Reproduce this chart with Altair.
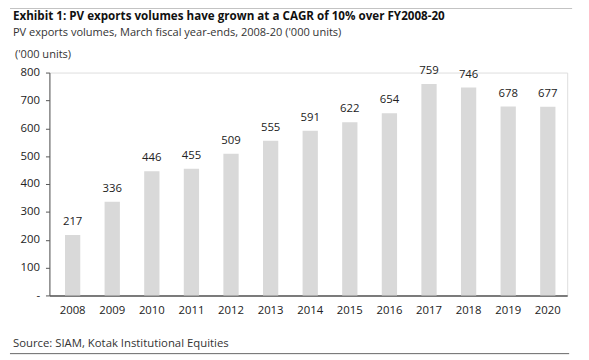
import altair as alt
import pandas as pd

years = ["2008", "2009", "2010", "2011", "2012", "2013", "2014", "2015", "2016", "2017", "2018", "2019", "2020"]
volumes = [217, 336, 446, 455, 509, 555, 591, 622, 654, 759, 746, 678, 677]
y_ticks = [0, 100, 200, 300, 400, 500, 600, 700, 800]

title_text = "Exhibit 1: PV exports volumes have grown at a CAGR of 10% over FY2008-20"
subtitle_text = "PV exports volumes, March fiscal year-ends, 2008-20 ('000 units)"
unit_text = "('000 units)"
source_text = "Source: SIAM, Kotak Institutional Equities"

df = pd.DataFrame({"year": years, "value": volumes})
FONT = "Open Sans"

x = alt.X("year:O", sort=years, title=None,
          scale=alt.Scale(paddingInner=0.614, paddingOuter=0.345, align=0.57),
          axis=alt.Axis(labelAngle=0, ticks=False, domainColor="#555555", domainWidth=1.5,
                        labelPadding=9, labelFontSize=11.5, labelColor="#222222", labelFont=FONT))
y = alt.Y("value:Q", title=None,
          scale=alt.Scale(domain=[0, 800], nice=False),
          axis=alt.Axis(values=y_ticks, grid=False, domainColor="#555555", tickColor="#555555",
                        tickSize=4, labelPadding=6, labelFontSize=11.5, labelColor="#222222",
                        labelFont=FONT, labelOverlap=False,
                        labelExpr="datum.value == 0 ? '-' : datum.label"))

base = alt.Chart(df)
bars = base.mark_bar(color="#d9d9d9").encode(x=x, y=y)
labels = base.mark_text(dy=-13, fontSize=11.5, color="#222222", font=FONT).encode(
    x=x, y=y, text="value:Q")

def txt(t, xx, yy, size=11.5, weight="normal", color="#222222"):
    return alt.Chart(pd.DataFrame({"t": [t]})).mark_text(
        align="left", baseline="alphabetic", fontSize=size, fontWeight=weight,
        color=color, font=FONT).encode(x=alt.value(xx), y=alt.value(yy), text="t:N")

def hline(x1, x2, yy, color="#888888", w=2):
    return alt.Chart(pd.DataFrame({"a": [0]})).mark_rule(color=color, strokeWidth=w).encode(
        x=alt.value(x1), x2=alt.value(x2), y=alt.value(yy))

title = txt(title_text, -37, -53, size=11.8, weight="bold", color="#111111")
subtitle = txt(subtitle_text, -37, -37, size=11.2, color="#333333")
unit = txt(unit_text, -35, -15, size=11.2, color="#333333")
source = txt(source_text, -37, 278, size=11.5, color="#333333")
top_line = hline(-40, 530, -66, color="#888888", w=2)
bottom_line = hline(-40, 527, 285, color="#666666", w=1)

chart = alt.layer(bars, labels, title, subtitle, unit, source, top_line, bottom_line).properties(
    width=525, height=226,
    autosize=alt.AutoSizeParams(type="none"),
    padding={"left": 42, "top": 63, "right": 14, "bottom": 63},
).configure_view(stroke=None).configure(background="white")

chart.save("out.html", embed_options={"renderer": "svg", "actions": False})
